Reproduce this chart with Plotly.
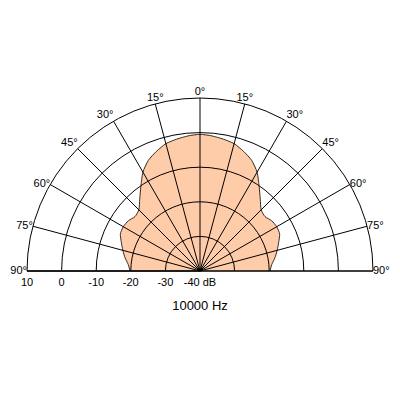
import plotly.graph_objects as go

# Off-axis angle (deg, from 0° on-axis) and level (dB) — symmetric pattern
angles_deg = [0, 5, 10, 15, 20, 25, 30, 35, 40, 45, 50, 55, 60, 65, 70, 75, 80, 85, 90]
level_db = [-0.5, -0.8, -1.3, -1.9, -3.2, -4.7, -7.0, -10.2, -12.9, -15.0, -15.5, -14.7,
            -14.4, -14.6, -15.8, -16.9, -18.0, -19.2, -19.8]

ring_db = [-40, -30, -20, -10, 0, 10]
ring_labels = ["-40 dB", "-30", "-20", "-10", "0", "10"]

spoke_plot_deg = [0, 15, 30, 45, 60, 75, 90, 105, 120, 135, 150, 165, 180]
spoke_labels = ["90°", "75°", "60°", "45°", "30°", "15°", "0°",
                "15°", "30°", "45°", "60°", "75°", "90°"]

title_text = "10000 Hz"

# label placement styles (not data)
spoke_label_pos = ["middle right", "middle right", "middle right", "top right", "top right",
                   "top center", "top center", "top center", "top left", "top left",
                   "middle left", "middle left", "middle left"]

# build closed shape: right side (plotly theta 0..90) then left side (90..180)
theta_pts = [90 - a for a in reversed(angles_deg)] + [90 + a for a in angles_deg[1:]]
r_pts = list(reversed(level_db)) + level_db[1:]

FONT = "Liberation Sans, Arial, sans-serif"
font = dict(family=FONT, size=11, color="black")
r_max = max(ring_db)

fig = go.Figure()
fig.add_trace(go.Scatterpolar(
    r=r_pts, theta=theta_pts, mode="lines", fill="toself",
    fillcolor="#FFCCAA", line=dict(color="#3a2a20", width=1, shape="spline", smoothing=0.6),
    subplot="polar", hoverinfo="skip", showlegend=False))
# radial (dB) labels along the baseline
fig.add_trace(go.Scatterpolar(
    r=ring_db, theta=[180] * len(ring_db), mode="markers+text", text=ring_labels,
    marker=dict(size=9, color="rgba(0,0,0,0)"),
    textposition="bottom center", textfont=font, cliponaxis=False,
    subplot="polar2", hoverinfo="skip", showlegend=False))
# angle labels at the outer ring
fig.add_trace(go.Scatterpolar(
    r=[r_max] * len(spoke_plot_deg), theta=spoke_plot_deg, mode="text", text=spoke_labels,
    textposition=spoke_label_pos, textfont=font, cliponaxis=False,
    subplot="polar2", hoverinfo="skip", showlegend=False))

dom = dict(x=[27/400, 373/400], y=[(400-271)/400, (400-98)/400])

fig.update_layout(
    width=400, height=400, margin=dict(l=0, r=0, t=0, b=0),
    paper_bgcolor="white", plot_bgcolor="white",
    polar=dict(
        domain=dom, sector=[0, 180], bgcolor="white",
        radialaxis=dict(range=[-40, 10], visible=False, showgrid=False),
        angularaxis=dict(visible=False, showgrid=False, rotation=0, direction="counterclockwise"),
    ),
    polar2=dict(
        domain=dom, sector=[0, 180], bgcolor="rgba(0,0,0,0)",
        radialaxis=dict(range=[-40, 10], tickmode="array", tickvals=ring_db,
                        showticklabels=False, angle=180, showgrid=True, gridcolor="black",
                        gridwidth=1, showline=True, linecolor="black", linewidth=1, ticks=""),
        angularaxis=dict(rotation=0, direction="counterclockwise", tickmode="array",
                         tickvals=spoke_plot_deg, showticklabels=False, showgrid=True,
                         gridcolor="black", gridwidth=1, showline=True, linecolor="black",
                         linewidth=1, ticks=""),
    ),
    title=dict(text=title_text, x=0.5, xanchor="center", y=1 - 305/400, yanchor="middle",
               font=dict(family=FONT, size=13, color="black")),
)

fig.write_html("out.html", config={"displayModeBar": False},
               post_script="document.body.style.margin='0px';")
